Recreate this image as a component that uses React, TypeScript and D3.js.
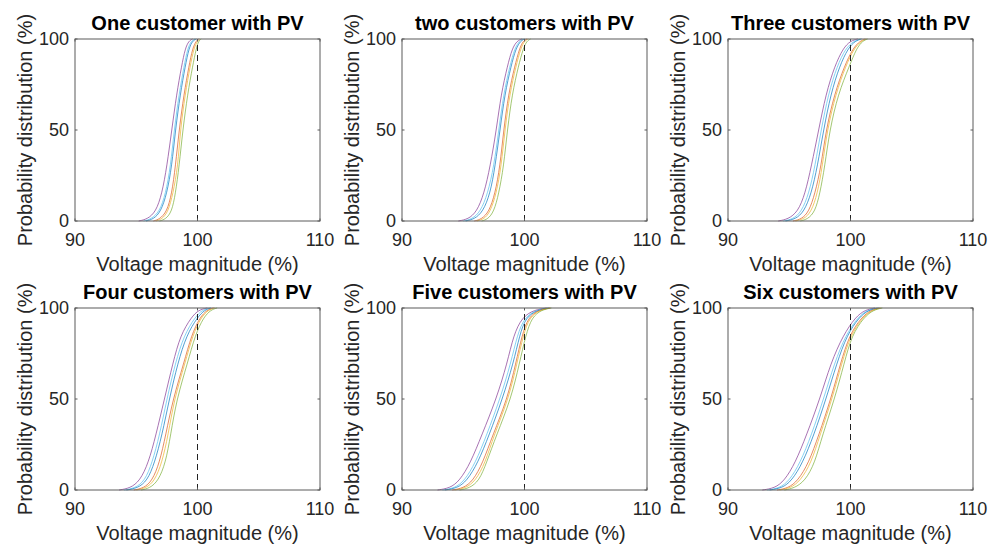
import * as d3 from "d3";
import React from "react";

// cumulative probability levels (%) at which each curve's voltage was read
const levels = [0, 1, 5, 15, 30, 50, 70, 85, 95, 99, 100];

const titles = [
  "One customer with PV",
  "two customers with PV",
  "Three customers with PV",
  "Four customers with PV",
  "Five customers with PV",
  "Six customers with PV",
];

const seriesColors = ["#7E2F8E", "#4DBEEE", "#0072BD", "#D95319", "#EDB120", "#77AC30"];

const xTicks = [90, 100, 110];
const yTicks = [0, 50, 100];

// voltage magnitude (%) per curve, one list per panel
const oneCustomer = [
  [95.2, 95.9, 96.6, 97.1, 97.5, 97.9, 98.3, 98.7, 99.0, 99.3, 99.6],
  [95.6, 96.2, 96.9, 97.4, 97.8, 98.1, 98.5, 98.9, 99.2, 99.5, 99.8],
  [95.8, 96.4, 97.0, 97.5, 97.9, 98.2, 98.6, 99.0, 99.3, 99.6, 99.9],
  [96.4, 96.9, 97.5, 97.9, 98.2, 98.5, 98.9, 99.3, 99.6, 99.9, 100.1],
  [96.6, 97.1, 97.6, 98.0, 98.4, 98.6, 99.0, 99.4, 99.7, 100.0, 100.2],
  [96.9, 97.4, 97.9, 98.2, 98.5, 98.8, 99.2, 99.6, 99.9, 100.1, 100.3],
];

const twoCustomers = [
  [94.6, 95.4, 96.1, 96.7, 97.2, 97.7, 98.1, 98.6, 99.0, 99.4, 99.8],
  [95.0, 95.7, 96.4, 97.0, 97.5, 97.9, 98.3, 98.8, 99.2, 99.6, 99.9],
  [95.2, 95.9, 96.6, 97.2, 97.6, 98.0, 98.4, 98.9, 99.3, 99.7, 100.0],
  [95.9, 96.5, 97.1, 97.6, 98.0, 98.3, 98.7, 99.2, 99.6, 99.9, 100.2],
  [96.1, 96.7, 97.2, 97.7, 98.1, 98.4, 98.8, 99.3, 99.7, 100.0, 100.3],
  [96.5, 97.0, 97.5, 97.9, 98.3, 98.6, 99.0, 99.5, 99.9, 100.2, 100.5],
];

const threeCustomers = [
  [94.1, 94.9, 95.7, 96.3, 96.8, 97.4, 98.0, 98.7, 99.4, 100.0, 100.6],
  [94.5, 95.3, 96.0, 96.6, 97.1, 97.6, 98.2, 98.9, 99.6, 100.3, 100.8],
  [94.7, 95.5, 96.2, 96.8, 97.3, 97.8, 98.4, 99.1, 99.8, 100.4, 100.9],
  [95.3, 96.0, 96.6, 97.1, 97.6, 98.0, 98.7, 99.5, 100.2, 100.8, 101.2],
  [95.5, 96.2, 96.8, 97.3, 97.7, 98.1, 98.8, 99.6, 100.3, 100.9, 101.3],
  [95.9, 96.5, 97.1, 97.5, 97.9, 98.3, 99.0, 99.9, 100.5, 101.0, 101.4],
];

const fourCustomers = [
  [93.6, 94.5, 95.3, 96.0, 96.6, 97.3, 98.0, 98.6, 99.5, 100.1, 100.8],
  [94.0, 94.9, 95.7, 96.3, 96.9, 97.5, 98.2, 98.9, 99.8, 100.4, 101.0],
  [94.2, 95.1, 95.9, 96.5, 97.1, 97.7, 98.4, 99.1, 100.0, 100.6, 101.1],
  [94.8, 95.6, 96.3, 96.9, 97.4, 98.0, 98.9, 99.5, 100.2, 100.8, 101.3],
  [95.0, 95.8, 96.5, 97.1, 97.6, 98.1, 99.0, 99.6, 100.3, 100.9, 101.4],
  [95.4, 96.1, 96.8, 97.4, 97.8, 98.3, 99.2, 99.8, 100.5, 101.1, 101.6],
];

const fiveCustomers = [
  [92.9, 93.9, 94.7, 95.6, 96.5, 97.7, 98.6, 99.1, 99.8, 100.8, 101.8],
  [93.3, 94.3, 95.1, 96.0, 96.9, 98.0, 98.9, 99.4, 100.0, 101.0, 101.9],
  [93.5, 94.5, 95.3, 96.2, 97.1, 98.2, 99.1, 99.6, 100.1, 101.1, 102.0],
  [94.1, 95.0, 95.8, 96.6, 97.4, 98.6, 99.3, 99.8, 100.3, 101.2, 102.1],
  [94.3, 95.2, 96.0, 96.8, 97.5, 98.7, 99.4, 99.9, 100.4, 101.3, 102.1],
  [94.7, 95.5, 96.3, 96.9, 97.7, 98.9, 99.6, 100.1, 100.6, 101.4, 102.2],
];

const sixCustomers = [
  [92.8, 93.8, 94.6, 95.5, 96.4, 97.5, 98.4, 99.4, 100.4, 101.2, 102.0],
  [93.2, 94.2, 95.0, 95.9, 96.8, 97.8, 98.7, 99.6, 100.6, 101.4, 102.2],
  [93.4, 94.4, 95.2, 96.1, 97.0, 98.0, 98.9, 99.7, 100.7, 101.5, 102.3],
  [94.0, 94.9, 95.7, 96.6, 97.4, 98.4, 99.2, 99.9, 100.9, 101.7, 102.4],
  [94.2, 95.1, 95.9, 96.8, 97.5, 98.5, 99.3, 100.0, 101.0, 101.8, 102.5],
  [94.6, 95.4, 96.3, 97.1, 97.7, 98.7, 99.5, 100.1, 101.1, 101.9, 102.6],
];

const panels = [oneCustomer, twoCustomers, threeCustomers, fourCustomers, fiveCustomers, sixCustomers];

const W = 991;
const H = 546;
const colLeft = [75, 402, 728];
const rowTop = [39, 308];
const plotW = 245;
const plotH = 182;
const font = "Arial, 'Liberation Sans', Helvetica, sans-serif";

const Panel: React.FC<{ idx: number }> = ({ idx }) => {
  const left = colLeft[idx % 3];
  const top = rowTop[Math.floor(idx / 3)];
  const x = d3.scaleLinear().domain([90, 110]).range([0, plotW]);
  const y = d3.scaleLinear().domain([0, 100]).range([plotH, 0]);

  const line = d3
    .line<number>()
    .x((v) => x(v))
    .y((_, i) => y(levels[i]))
    .curve(d3.curveBasis);

  return (
    <g transform={`translate(${left},${top})`}>
      <rect x={0} y={0} width={plotW} height={plotH} fill="#fff" />
      {panels[idx].map((s, i) => (
        <path key={i} d={line(s) ?? ""} fill="none" stroke={seriesColors[i]} strokeWidth={0.8} strokeOpacity={0.85} />
      ))}
      <line x1={x(100)} x2={x(100)} y1={y(0)} y2={y(100)} stroke="#222" strokeWidth={1} strokeDasharray="6,4" />
      <rect x={0} y={0} width={plotW} height={plotH} fill="none" stroke="#5a5a5a" strokeWidth={1} />
      {yTicks.map((t) => (
        <g key={t}>
          <line x1={0} x2={2.5} y1={y(t)} y2={y(t)} stroke="#5a5a5a" />
          <line x1={plotW} x2={plotW - 2.5} y1={y(t)} y2={y(t)} stroke="#5a5a5a" />
          <text x={-6} y={y(t)} dy="0.35em" textAnchor="end" fontSize={18} fill="#262626" fontFamily={font}>
            {t}
          </text>
        </g>
      ))}
      {xTicks.map((t) => (
        <g key={t}>
          <line x1={x(t)} x2={x(t)} y1={plotH} y2={plotH - 2.5} stroke="#5a5a5a" />
          <line x1={x(t)} x2={x(t)} y1={0} y2={2.5} stroke="#5a5a5a" />
          <text x={x(t)} y={plotH + 25} textAnchor="middle" fontSize={18} fill="#262626" fontFamily={font}>
            {t}
          </text>
        </g>
      ))}
      <text x={plotW / 2} y={-9} textAnchor="middle" fontSize={20} fontWeight="bold" fill="#000" fontFamily={font}>
        {titles[idx]}
      </text>
      <text x={plotW / 2} y={plotH + 50} textAnchor="middle" fontSize={20} fill="#262626" fontFamily={font}>
        Voltage magnitude (%)
      </text>
      <text
        transform={`translate(${-43},${plotH / 2}) rotate(-90)`}
        textAnchor="middle"
        fontSize={20}
        fill="#262626"
        fontFamily={font}
      >
        Probability distribution (%)
      </text>
    </g>
  );
};

export default function App() {
  return (
    <svg width={W} height={H} style={{ position: "absolute", left: 0, top: 0, background: "#fff" }}>
      {titles.map((_, i) => (
        <Panel key={i} idx={i} />
      ))}
    </svg>
  );
}
